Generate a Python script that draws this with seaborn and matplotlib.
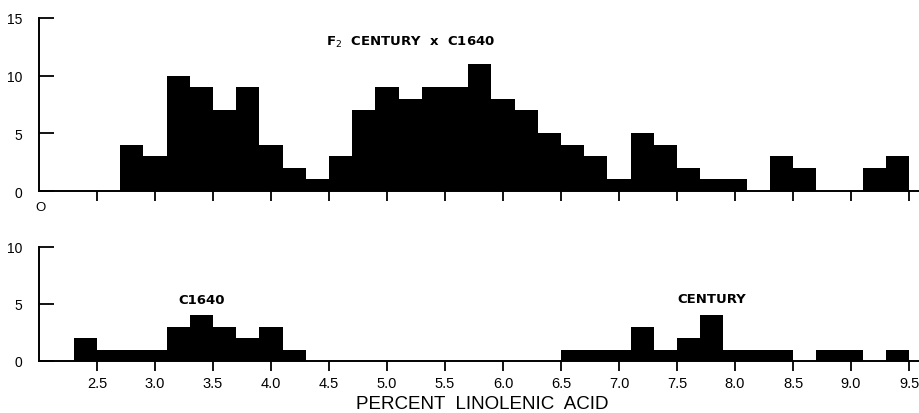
import numpy as np
import pandas as pd
import matplotlib
matplotlib.use("Agg")
import matplotlib.pyplot as plt
import seaborn as sns

# ---- data ----
bin_width = 0.2
f2_bin_left = [2.7, 2.9, 3.1, 3.3, 3.5, 3.7, 3.9, 4.1, 4.3, 4.5, 4.7, 4.9, 5.1, 5.3,
               5.5, 5.7, 5.9, 6.1, 6.3, 6.5, 6.7, 6.9, 7.1, 7.3, 7.5, 7.7, 7.9, 8.1,
               8.3, 8.5, 8.7, 8.9, 9.1, 9.3]
f2_counts = [4, 3, 10, 9, 7, 9, 4, 2, 1, 3, 7, 9, 8, 9,
             9, 11, 8, 7, 5, 4, 3, 1, 5, 4, 2, 1, 1, 0,
             3, 2, 0, 0, 2, 3]

c1640_bin_left = [2.3, 2.5, 2.7, 2.9, 3.1, 3.3, 3.5, 3.7, 3.9, 4.1]
c1640_counts = [2, 1, 1, 1, 3, 4, 3, 2, 3, 1]

century_bin_left = [6.5, 6.7, 6.9, 7.1, 7.3, 7.5, 7.7, 7.9, 8.1, 8.3, 8.5, 8.7, 8.9, 9.1, 9.3]
century_counts = [1, 1, 1, 3, 1, 2, 4, 1, 1, 1, 0, 1, 1, 0, 1]

x_ticks = [2.5, 3.0, 3.5, 4.0, 4.5, 5.0, 5.5, 6.0, 6.5, 7.0, 7.5, 8.0, 8.5, 9.0, 9.5]
x_tick_labels = ["2.5", "3.0", "3.5", "4.0", "4.5", "5.0", "5.5", "6.0", "6.5", "7.0",
                 "7.5", "8.0", "8.5", "9.0", "9.5"]

sns.set_style("ticks")
plt.rcParams['font.family'] = ['Liberation Sans', 'DejaVu Sans']
plt.rcParams['text.color'] = 'black'
plt.rcParams['xtick.color'] = 'black'
plt.rcParams['ytick.color'] = 'black'
plt.rcParams['axes.edgecolor'] = 'black'

fig = plt.figure(figsize=(9.19, 4.14), dpi=100)
W, H = 919.0, 414.0
x0_px, x1_px = 39.0, 920.6
ax_top = fig.add_axes([x0_px / W, 1 - 192 / H, (x1_px - x0_px) / W, (192 - 19) / H])
ax_bot = fig.add_axes([x0_px / W, 1 - 362 / H, (x1_px - x0_px) / W, (362 - 248) / H])


def draw(ax, lefts, counts):
    lefts = np.round(np.asarray(lefts, float), 2)
    centers = lefts + bin_width / 2
    edges = [float(v) for v in np.round(np.append(lefts, lefts[-1] + bin_width), 2)]
    df = pd.DataFrame({"x": centers, "w": np.asarray(counts, float)})
    sns.histplot(data=df, x="x", weights="w", bins=edges, ax=ax, color="black",
                 alpha=1, linewidth=0, edgecolor="black", element="bars", fill=True)


draw(ax_top, f2_bin_left, f2_counts)
draw(ax_bot, c1640_bin_left, c1640_counts)
draw(ax_bot, century_bin_left, century_counts)

for ax in (ax_top, ax_bot):
    ax.set_xlim(2.0, 9.6)
    ax.set_xticks(x_ticks)
    ax.set_ylabel("")
    ax.set_xlabel("")
    for s in ("top", "right"):
        ax.spines[s].set_visible(False)
    for s in ("left", "bottom"):
        ax.spines[s].set_linewidth(1.4)
        ax.spines[s].set_color("black")
    ax.tick_params(axis="y", direction="in", length=11, width=1.3, labelsize=10, pad=12,
                   colors="black")
    ax.tick_params(axis="x", direction="out", length=7, width=1.3, labelsize=10.5, pad=4,
                   colors="black")

ax_top.set_ylim(0, 15)
ax_top.set_yticks([0, 5, 10, 15])
ax_top.set_xticklabels([])
ax_bot.set_ylim(0, 10)
ax_bot.set_yticks([0, 5, 10])
ax_bot.set_xticklabels(x_tick_labels)

ann_font = dict(family="DejaVu Sans", fontsize=9.5, fontweight="bold", color="black")
ax_top.text(5.2, 13.0, "F$_2$  CENTURY  x  C1640", ha="center", va="center", **ann_font)
ax_bot.text(3.4, 5.4, "C1640", ha="center", va="center", **ann_font)
ax_bot.text(7.8, 5.5, "CENTURY", ha="center", va="center", **ann_font)
fig.text(40 / W, 1 - 208 / H, "O", ha="center", va="center", fontsize=9.5)
fig.text(482 / W, 1 - 409 / H, "PERCENT  LINOLENIC  ACID", ha="center", va="baseline",
         fontsize=13.5)

fig.savefig("out.png", dpi=100)
